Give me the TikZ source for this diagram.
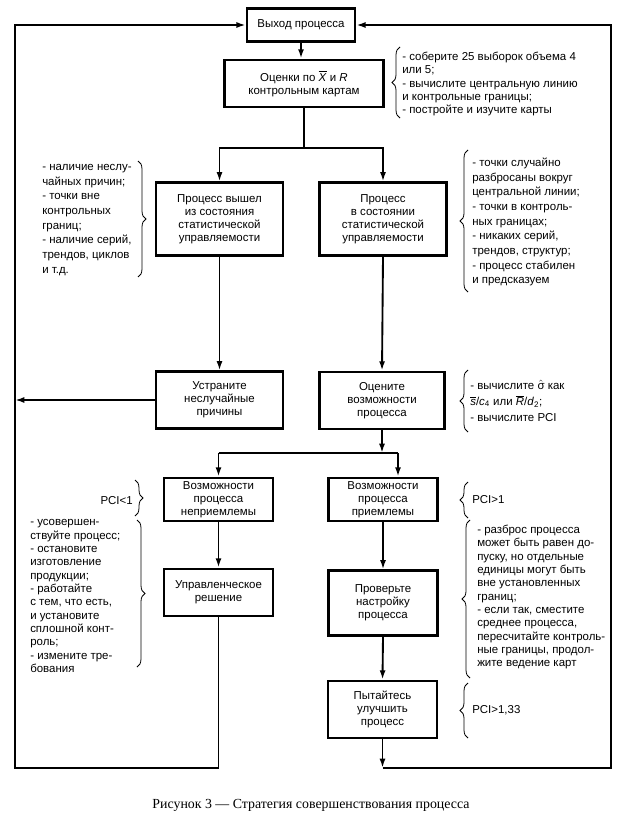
\documentclass[tikz,border=0pt]{standalone}
\usepackage{fontspec}
\setmainfont{Liberation Sans}
\newfontfamily\capfont{Liberation Serif}
\usetikzlibrary{arrows.meta,positioning,calc,decorations.pathreplacing}

\newcommand{\ovl}[1]{$\overline{\mbox{\textit{#1}}}$}

\begin{document}
\begin{tikzpicture}[x=0.75pt, y=-0.75pt,
  procbox/.style={draw, line width=1.8pt, align=center, inner sep=1pt, font=\fontsize{8.6}{9.75}\selectfont},
  notetext/.style={align=left, inner sep=0pt, font=\fontsize{8.6}{10}\selectfont},
  widetext/.style={notetext, font=\fontsize{8.6}{11}\selectfont},
  notebrace/.style={decorate, decoration={brace, amplitude=6pt}, line width=0.6pt},
  arr/.style={-{Latex[length=7pt, width=4.5pt]}, line width=1.4pt},
  wire/.style={line width=1.4pt},
  every node/.style={font=\fontsize{8.6}{9.75}\selectfont}]
  \useasboundingbox (0,0) rectangle (622,820);
  % Rails and junctions of the loop
  \coordinate (lrail) at (15,25);
  \coordinate (lbot) at (15,768);
  \coordinate (rbot) at (611,768);
  \coordinate (split1) at (303,148);
  \coordinate (split2) at (382,453);
  \coordinate (accin) at (398,453);
  % Top of the chart
  \node[procbox, minimum width=81pt, minimum height=24.5pt] (out) at (301,25) {Выход процесса};
  \node[procbox, minimum width=119pt, minimum height=35.5pt] (est) at (304,83.5)
    {Оценки по \ovl{X} и \textit{R}\\контрольным картам};
  \draw[arr] (out.south) -- (out.south |- est.north);
  % Two states of the process
  \node[procbox, minimum width=95.5pt, minimum height=54.5pt] (outbox) at (219.5,219)
    {Процесс вышел\\из состояния\\статистической\\управляемости};
  \node[procbox, minimum width=95pt, minimum height=54.5pt] (inbox) at (383,219)
    {Процесс\\в состоянии\\статистической\\управляемости};
  \draw[wire] (est.south) -- (est.south |- split1);
  \draw[arr] (est.south |- split1) -| (outbox.north);
  \draw[arr] (est.south |- split1) -| (inbox.north);
  % Causes and capability
  \node[procbox, minimum width=95.5pt, minimum height=42.5pt] (remove) at (219.5,400)
    {Устраните\\неслучайные\\причины};
  \node[procbox, minimum width=93.5pt, minimum height=43pt] (assess) at (382,400.5)
    {Оцените\\возможности\\процесса};
  \draw[arr] (outbox.south) -- (remove.north);
  \draw[arr] (inbox.south) -- (assess.north);
  \draw[arr] (remove.west) -- (remove.west -| lrail);
  % Capability verdicts
  \node[procbox, minimum width=82pt, minimum height=32.5pt] (unacc) at (218.5,499.5)
    {Возможности\\процесса\\неприемлемы};
  \node[procbox, minimum width=81.5pt, minimum height=32.5pt] (acc) at (383,499.5)
    {Возможности\\процесса\\приемлемы};
  \draw[arr] (assess.south) -- (split2);
  \draw[wire] (unacc.north |- split2) -- (accin);
  \draw[arr] (unacc.north |- split2) -- (unacc.north);
  \draw[arr] (accin) -- (accin |- acc.north);
  % Further steps
  \node[procbox, minimum width=82pt, minimum height=35.5pt] (decision) at (218.5,592.5)
    {Управленческое\\решение};
  \node[procbox, minimum width=81.5pt, minimum height=48.5pt] (check) at (383,603)
    {Проверьте\\настройку\\процесса};
  \node[procbox, minimum width=82pt, minimum height=43pt] (try) at (382.5,709.5)
    {Пытайтесь\\улучшить\\процесс};
  \draw[arr] (unacc.south) -- (decision.north);
  \draw[arr] (acc.south) -- (check.north);
  \draw[arr] (check.south) -- (try.north);
  % Feedback loops back to the output
  \draw[arr] (decision.south) |- (lbot) |- (out.west);
  \draw[arr] (try.south) -- (try.south |- rbot);
  \draw[arr] (try.south |- rbot) -- (rbot) |- (out.east);
  % Notes with braces
  \draw[notebrace] (400,118) -- (400,47);
  \node[notetext, anchor=west] (estnote) at (402,84)
    {- соберите 25 выборок объема 4\\или 5;\\- вычислите центральную линию\\и контрольные границы;\\- постройте и изучите карты};
  \draw[notebrace] (138,161) -- (138,277);
  \node[widetext, anchor=west] (outnote) at (42,220)
    {- наличие неслу-\\чайных причин;\\- точки вне\\контрольных\\границ;\\- наличие серий,\\трендов, циклов\\и т.д.};
  \draw[notebrace] (468,292) -- (468,150);
  \node[widetext, anchor=west] (innote) at (472,222)
    {- точки случайно\\разбросаны вокруг\\центральной линии;\\- точки в контроль-\\ных границах;\\- никаких серий,\\трендов, структур;\\- процесс стабилен\\и предсказуем};
  \draw[notebrace] (468,432) -- (468,370);
  \node[notetext, anchor=west, font=\fontsize{8.6}{12}\selectfont] (assessnote) at (470,401)
    {- вычислите $\hat{\mbox{σ}}$ как\\\ovl{s}/\textit{c}\textsubscript{4} или \ovl{R}/\textit{d}\textsubscript{2};\\- вычислите PCI};
  \draw[notebrace] (468,518) -- (468,482);
  \node[notetext, anchor=west] (accnote) at (472,500) {PCI>1};
  \draw[notebrace] (135,480) -- (135,516);
  \node[notetext, anchor=east] (unaccnote) at (133,501) {PCI<1};
  \draw[notebrace] (137,520) -- (137,667);
  \node[notetext, anchor=west] (decnote) at (30,596)
    {- усовершен-\\ствуйте процесс;\\- остановите\\изготовление\\продукции;\\- работайте\\с тем, что есть,\\и установите\\сплошной конт-\\роль;\\- измените тре-\\бования};
  \draw[notebrace] (470,678) -- (470,520);
  \node[notetext, anchor=west] (checknote) at (477,597)
    {- разброс процесса\\может быть равен до-\\пуску, но отдельные\\единицы могут быть\\вне установленных\\границ;\\- если так, сместите\\среднее процесса,\\пересчитайте контроль-\\ные границы, продол-\\жите ведение карт};
  \draw[notebrace] (468,738) -- (468,683);
  \node[notetext, anchor=west] (trynote) at (472,710) {PCI>1,33};
  % Caption
  \node[font=\capfont\fontsize{10.4}{12}\selectfont] (caption) at (311,805)
    {Рисунок 3 — Стратегия совершенствования процесса};
\end{tikzpicture}
\end{document}
